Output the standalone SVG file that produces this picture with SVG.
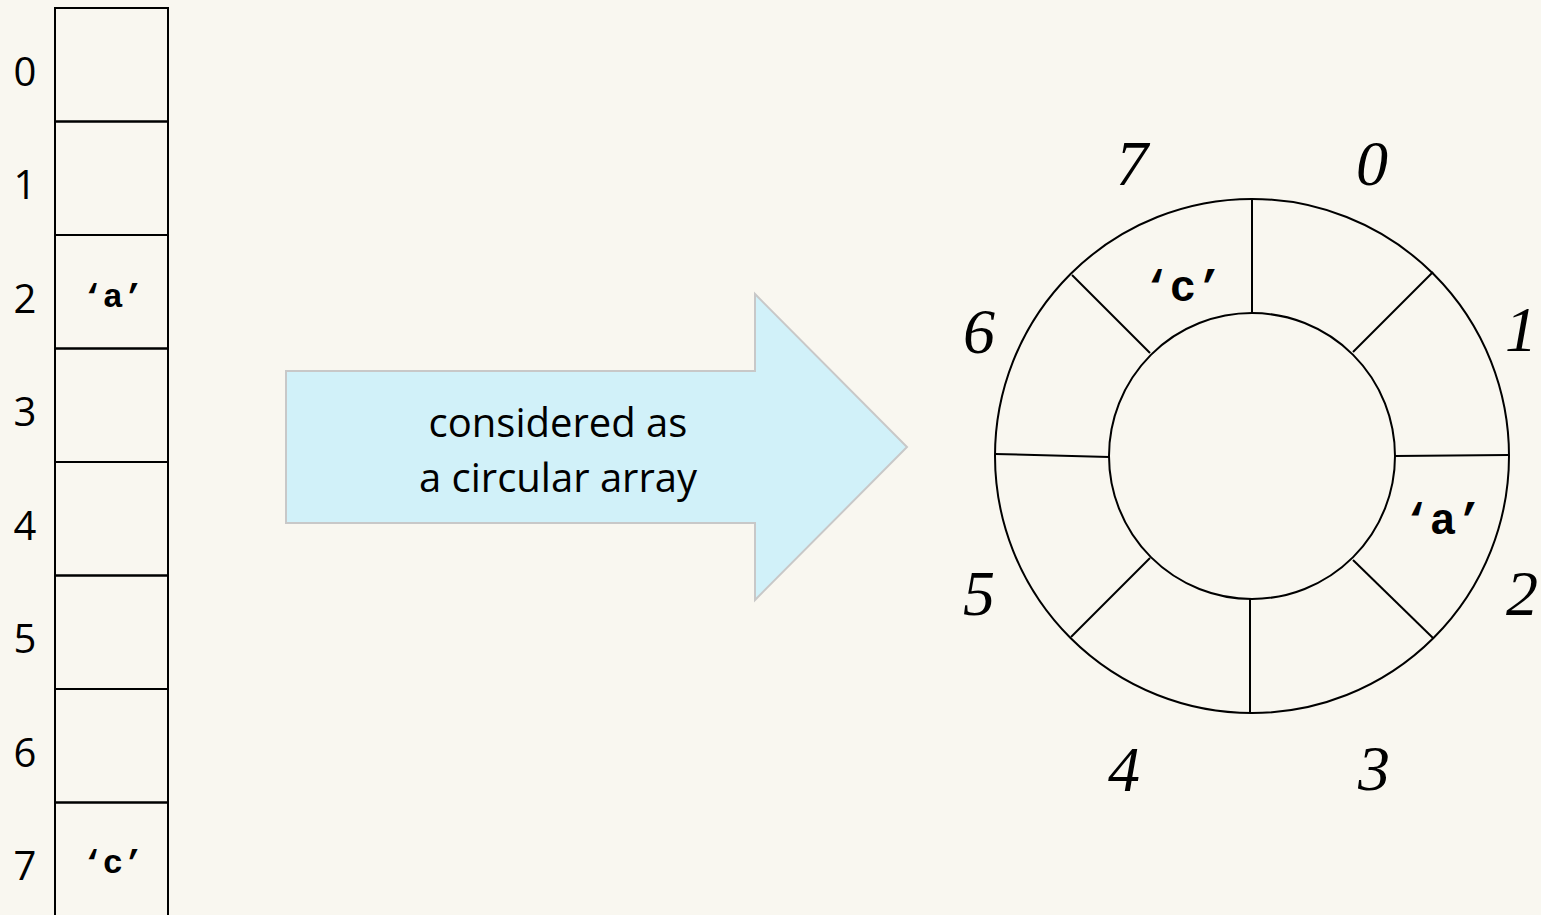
<svg xmlns="http://www.w3.org/2000/svg" width="1541" height="915" viewBox="0 0 1541 915">
<style>
.cell{fill:none;stroke:#000;stroke-width:2}
.idx{font-family:"Open Sans","Liberation Sans",sans-serif;font-size:40px;fill:#000;text-anchor:middle}
.mono{font-family:"Liberation Mono","Courier New",monospace;font-weight:bold;fill:#000;text-anchor:middle}
.ring{fill:none;stroke:#000;stroke-width:2}
.spoke{stroke:#000;stroke-width:2}
.lab{font-family:"Liberation Serif","Times New Roman",serif;font-style:italic;font-size:64px;fill:#000;text-anchor:middle}
.arrowtxt{font-family:"Open Sans","Liberation Sans",sans-serif;font-size:40px;fill:#000;text-anchor:middle}
</style>
<rect width="1541" height="915" fill="#f9f7f0"/>
<g id="array">
<rect class="cell" x="55" y="8" width="113" height="113.5"/>
<rect class="cell" x="55" y="121.5" width="113" height="113.5"/>
<rect class="cell" x="55" y="235" width="113" height="113.5"/>
<rect class="cell" x="55" y="348.5" width="113" height="113.5"/>
<rect class="cell" x="55" y="462" width="113" height="113.5"/>
<rect class="cell" x="55" y="575.5" width="113" height="113.5"/>
<rect class="cell" x="55" y="689" width="113" height="113.5"/>
<rect class="cell" x="55" y="802.5" width="113" height="113.5"/>
<text class="idx" x="25" y="86">0</text>
<text class="idx" x="25" y="199">1</text>
<text class="idx" x="25" y="313">2</text>
<text class="idx" x="25" y="426">3</text>
<text class="idx" x="25" y="540">4</text>
<text class="idx" x="25" y="653">5</text>
<text class="idx" x="25" y="767">6</text>
<text class="idx" x="25" y="880">7</text>
<text class="mono" x="113" y="307" font-size="34">‘a’</text>
<text class="mono" x="113" y="873" font-size="34">‘c’</text>
</g>
<g id="arrow">
<path d="M286,371 H755 V294 L907,447 L755,600 V523 H286 Z" fill="#d1f1f9" stroke="#c8c8c8" stroke-width="2"/>
<text class="arrowtxt" x="558" y="437">considered as</text>
<text class="arrowtxt" x="558" y="492">a circular array</text>
</g>
<g id="circular">
<circle class="ring" cx="1252" cy="456" r="257"/>
<circle class="ring" cx="1252" cy="456" r="143"/>
<line class="spoke" x1="1252" y1="198" x2="1252" y2="313"/>
<line class="spoke" x1="1250" y1="599" x2="1250" y2="713"/>
<line class="spoke" x1="995" y1="454" x2="1109" y2="457"/>
<line class="spoke" x1="1395" y1="456" x2="1508" y2="455"/>
<line class="spoke" x1="1072" y1="275" x2="1150" y2="353"/>
<line class="spoke" x1="1353" y1="352" x2="1433" y2="272"/>
<line class="spoke" x1="1353" y1="560" x2="1433" y2="638"/>
<line class="spoke" x1="1071" y1="637" x2="1150" y2="558"/>
<text class="mono" x="1183" y="301" font-size="44">‘c’</text>
<text class="mono" x="1443" y="534" font-size="44">‘a’</text>
<text class="lab" x="1132" y="185">7</text>
<text class="lab" x="1372" y="185">0</text>
<text class="lab" x="1521" y="351">1</text>
<text class="lab" x="979" y="353">6</text>
<text class="lab" x="979" y="615">5</text>
<text class="lab" x="1522" y="615">2</text>
<text class="lab" x="1124" y="791">4</text>
<text class="lab" x="1374" y="790">3</text>
</g>
</svg>
